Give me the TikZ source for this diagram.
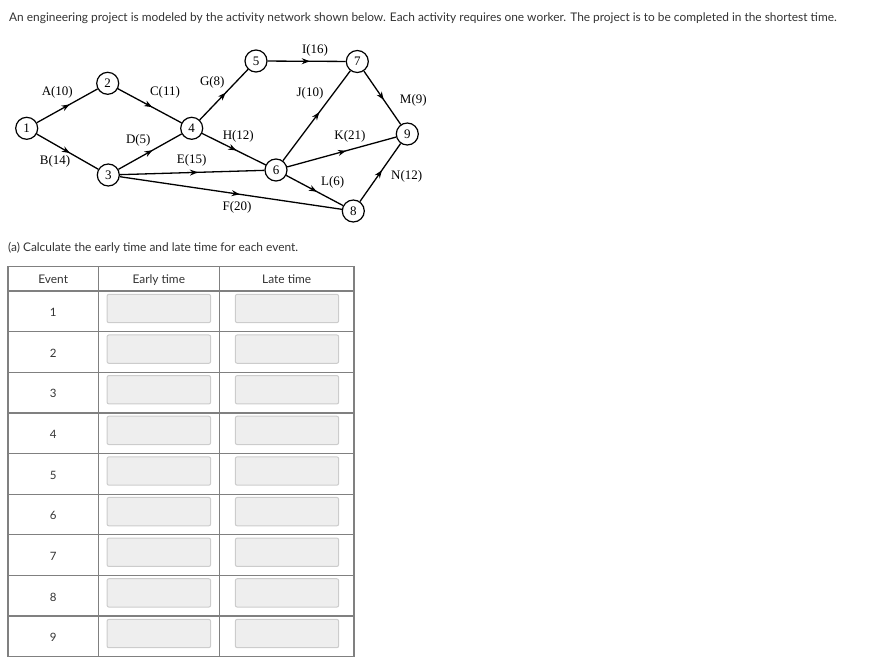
\documentclass[tikz,border=0pt]{standalone}
\usepackage{fontspec}
\setmainfont{Lato}
\newfontfamily\dserif{Liberation Serif}
\usetikzlibrary{arrows.meta,decorations.markings}
\definecolor{tline}{HTML}{808080}
\definecolor{boxfill}{HTML}{EEEEEE}
\definecolor{boxline}{HTML}{CCCCCC}
\definecolor{txt}{HTML}{333333}
\begin{document}
\begin{tikzpicture}[x=1pt,y=-1pt,
  ev/.style={circle,draw,line width=1.2pt,minimum size=22pt,inner sep=0pt,font=\dserif\fontsize{13}{13}\selectfont},
  act/.style={line width=1.3pt,postaction={decorate},decoration={markings,mark=at position 0.54 with {\arrow{Stealth[length=8pt,width=6pt]}}}},
  lab/.style={font=\dserif\fontsize{13}{13}\selectfont,inner sep=0pt},
  ptext/.style={font=\fontsize{11.9}{14}\selectfont,text=txt,inner sep=0pt},
  grid/.style={draw=tline,line width=1.3pt},
  inbox/.style={fill=boxfill,draw=boxline,line width=1pt,rounded corners=2pt}]
\useasboundingbox (0,0) rectangle (873,661);
% title
\node[ptext,anchor=base west] (title) at (9,22) {An engineering project is modeled by the activity network shown below. Each activity requires one worker. The project is to be completed in the shortest time.};
% network
\node[ev] (n1) at (26.7,128.3) {1};
\node[ev] (n2) at (107.7,83.3) {2};
\node[ev] (n3) at (108.3,175) {3};
\node[ev] (n4) at (191.7,128.3) {4};
\node[ev] (n5) at (256,61) {5};
\node[ev] (n6) at (276,170) {6};
\node[ev] (n7) at (357.3,61.5) {7};
\node[ev] (n8) at (353.3,211) {8};
\node[ev] (n9) at (407.3,134) {9};
\draw[act] (n1) -- (n2);
\draw[act] (n1) -- (n3);
\draw[act] (n2) -- (n4);
\draw[act] (n3) -- (n4);
\draw[act] (n3) -- (n6);
\draw[act] (n3) -- (n8);
\draw[act] (n4) -- (n5);
\draw[act] (n4) -- (n6);
\draw[act] (n5) -- (n7);
\draw[act] (n6) -- (n7);
\draw[act] (n6) -- (n9);
\draw[act] (n6) -- (n8);
\draw[act] (n7) -- (n9);
\draw[act] (n8) -- (n9);
\node[lab] (lA) at (57.3,92.3) {A(10)};
\node[lab] (lB) at (55,161.7) {B(14)};
\node[lab] (lC) at (165,92.7) {C(11)};
\node[lab] (lD) at (138.3,140) {D(5)};
\node[lab] (lE) at (191.7,160) {E(15)};
\node[lab] (lF) at (237,207.5) {F(20)};
\node[lab] (lG) at (212.3,82.7) {G(8)};
\node[lab] (lH) at (238.3,136) {H(12)};
\node[lab] (lI) at (315,50) {I(16)};
\node[lab] (lJ) at (310,93.3) {J(10)};
\node[lab] (lK) at (350,136.7) {K(21)};
\node[lab] (lL) at (332.7,182.7) {L(6)};
\node[lab] (lM) at (413.3,100.7) {M(9)};
\node[lab] (lN) at (406.7,176.7) {N(12)};
% question
\node[ptext,anchor=base west] (q) at (8,251.5) {(a) Calculate the early time and late time for each event.};
% table
\draw[grid] (8,266.7) rectangle (354,656.7);
\draw[grid] (98.3,266.7) -- (98.3,656.7);
\draw[grid] (219.3,266.7) -- (219.3,656.7);
\draw[grid] (8,291) -- (354,291);
\foreach \i in {1,...,8} {\draw[grid] (8,291+40.63*\i) -- (354,291+40.63*\i);}
\node[ptext,anchor=base] (h1) at (53.2,283.3) {Event};
\node[ptext,anchor=base] (h2) at (158.8,283.3) {Early time};
\node[ptext,anchor=base] (h3) at (286.7,283.3) {Late time};
\foreach \i in {1,...,9} {
  \pgfmathsetmacro{\yy}{291+40.63*(\i-1)}
  \draw[inbox] (107,\yy+3.3) rectangle (210.7,\yy+31.7);
  \draw[inbox] (235.3,\yy+3.3) rectangle (338.7,\yy+31.7);
  \node[ptext,font=\fontsize{11.5}{13}\selectfont,anchor=base] (e\i) at (53.2,\yy+25.6) {\i};
}
\end{tikzpicture}
\end{document}
